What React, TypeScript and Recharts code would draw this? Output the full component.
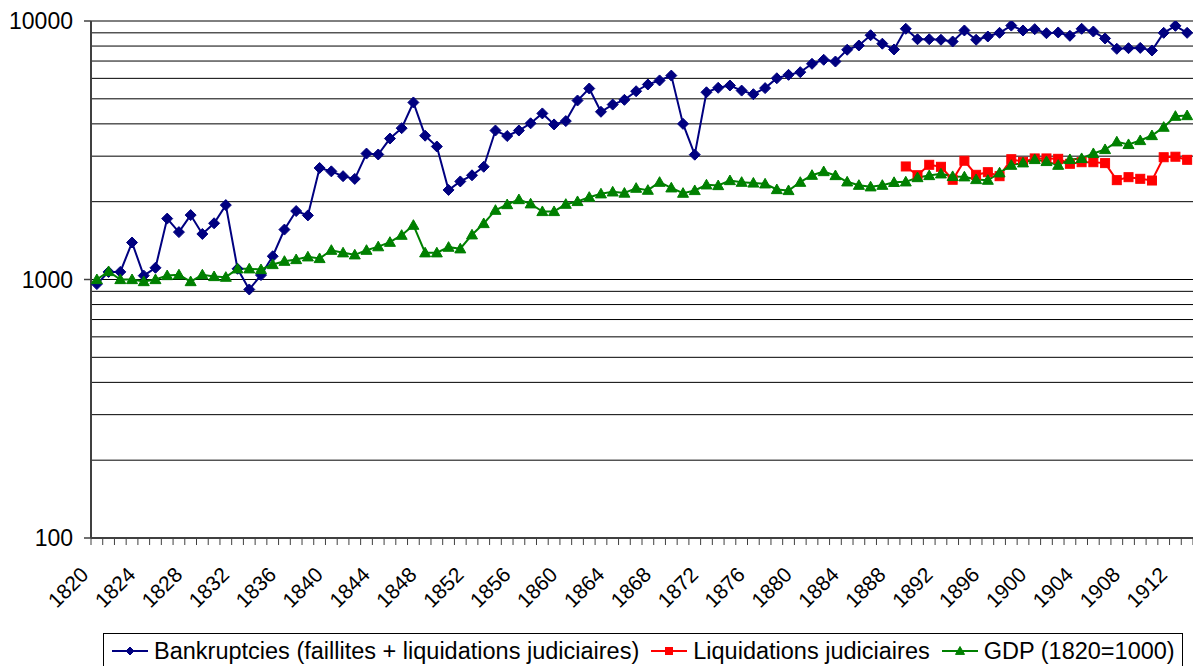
import { LineChart, Line, XAxis, YAxis, CartesianGrid } from "recharts";

const years = [
  1820, 1821, 1822, 1823, 1824, 1825, 1826, 1827, 1828, 1829,
  1830, 1831, 1832, 1833, 1834, 1835, 1836, 1837, 1838, 1839,
  1840, 1841, 1842, 1843, 1844, 1845, 1846, 1847, 1848, 1849,
  1850, 1851, 1852, 1853, 1854, 1855, 1856, 1857, 1858, 1859,
  1860, 1861, 1862, 1863, 1864, 1865, 1866, 1867, 1868, 1869,
  1870, 1871, 1872, 1873, 1874, 1875, 1876, 1877, 1878, 1879,
  1880, 1881, 1882, 1883, 1884, 1885, 1886, 1887, 1888, 1889,
  1890, 1891, 1892, 1893, 1894, 1895, 1896, 1897, 1898, 1899,
  1900, 1901, 1902, 1903, 1904, 1905, 1906, 1907, 1908, 1909,
  1910, 1911, 1912, 1913,
];

// faillites + liquidations judiciaires
const bankruptcies = [
  960, 1070, 1070, 1390, 1035, 1110, 1720, 1525, 1775, 1500,
  1650, 1940, 1100, 915, 1040, 1230, 1560, 1840, 1770, 2700,
  2620, 2510, 2450, 3070, 3045, 3510, 3850, 4840, 3600, 3270,
  2220, 2395, 2530, 2730, 3770, 3590, 3770, 4020, 4390, 3980,
  4100, 4925, 5480, 4455, 4750, 4955, 5350, 5680, 5890, 6150,
  4000, 3040, 5300, 5515, 5630, 5380, 5210, 5500, 6005, 6190,
  6340, 6830, 7080, 6970, 7740, 8040, 8810, 8170, 7760, 9330,
  8500, 8500, 8460, 8330, 9190, 8460, 8710, 9000, 9600, 9190,
  9300, 8970, 9030, 8765, 9330, 9105, 8560, 7805, 7850, 7870,
  7690, 9000, 9580, 9000,
];

// liquidations judiciaires, 1889-1913
const liqStartYear = 1889;
const liquidations = [
  2737, 2532, 2778, 2729, 2431, 2880, 2541, 2601, 2510, 2920,
  2853, 2940, 2940, 2930, 2803, 2843, 2843, 2820, 2423, 2488,
  2452, 2415, 2972, 2985, 2904,
];

// GDP index, 1820 = 1000
const gdp = [
  1000, 1074, 1000, 1000, 982, 1000, 1036, 1043, 982, 1043,
  1027, 1021, 1100, 1100, 1093, 1143, 1177, 1195, 1224, 1206,
  1298, 1269, 1246, 1298, 1340, 1394, 1484, 1622, 1269, 1269,
  1334, 1315, 1489, 1647, 1854, 1950, 2039, 1963, 1833, 1833,
  1956, 2004, 2082, 2146, 2183, 2160, 2256, 2216, 2379, 2263,
  2158, 2210, 2324, 2310, 2415, 2379, 2363, 2345, 2229, 2210,
  2379, 2532, 2616, 2525, 2387, 2316, 2284, 2316, 2376, 2387,
  2480, 2525, 2563, 2505, 2497, 2437, 2423, 2587, 2768, 2828,
  2913, 2862, 2768, 2913, 2940, 3073, 3184, 3410, 3330, 3450,
  3606, 3885, 4283, 4308,
];

const majorTicks = [100, 1000, 10000];
const gridTicks = [
  100, 200, 300, 400, 500, 600, 700, 800, 900,
  1000, 2000, 3000, 4000, 5000, 6000, 7000, 8000, 9000,
  10000,
];

const data = years.map((year, i) => ({
  year,
  bank: bankruptcies[i],
  liq: year >= liqStartYear ? liquidations[year - liqStartYear] : null,
  gdp: gdp[i],
}));

const W = 1193;
const H = 666;
const Y_AXIS_W = 91;
const X_AXIS_H = 128;
const HALF_BAND = (W - Y_AXIS_W) / years.length / 2;
const FONT = '"Liberation Sans", Arial, sans-serif';
const NAVY = "#000080";
const RED = "#ff0000";
const GREEN = "#008000";
const AXIS = "#404040";

const Diamond = ({ cx, cy, r = 5.5 }: any) =>
  cx == null || cy == null ? <g /> : (
    <polygon points={`${cx},${cy - r} ${cx + r},${cy} ${cx},${cy + r} ${cx - r},${cy}`} fill={NAVY} stroke={NAVY} strokeWidth={1} />
  );

const Square = ({ cx, cy, r = 4.5 }: any) =>
  cx == null || cy == null ? <g /> : (
    <rect x={cx - r} y={cy - r} width={r * 2} height={r * 2} fill={RED} stroke={RED} strokeWidth={1} />
  );

const Triangle = ({ cx, cy, r = 5.5 }: any) =>
  cx == null || cy == null ? <g /> : (
    <polygon points={`${cx},${cy - r} ${cx + r},${cy + r * 0.75} ${cx - r},${cy + r * 0.75}`} fill={GREEN} stroke={GREEN} strokeWidth={1} />
  );

const YearTick = ({ x, y, payload }: any) => {
  const yr = payload.value;
  const last = yr === years[years.length - 1];
  return (
    <g>
      <line x1={x - HALF_BAND} x2={x - HALF_BAND} y1={y} y2={y + 7} stroke={AXIS} strokeWidth={1} />
      {last && <line x1={x + HALF_BAND} x2={x + HALF_BAND} y1={y} y2={y + 7} stroke={AXIS} strokeWidth={1} />}
      {yr % 4 === 0 && (
        <text x={x - 7} y={y + 38} textAnchor="end" fontSize={21} fontFamily={FONT} fill="#000" transform={`rotate(-45, ${x - 7}, ${y + 38})`}>
          {yr}
        </text>
      )}
    </g>
  );
};

const ValueTick = ({ x, y, payload }: any) => {
  if (!majorTicks.includes(payload.value)) return <g />;
  return (
    <g>
      <line x1={x - 7} x2={x} y1={y} y2={y} stroke={AXIS} strokeWidth={1.5} />
      <text x={x - 18} y={y} dy="0.36em" textAnchor="end" fontSize={23} fontFamily={FONT} fill="#000">
        {payload.value}
      </text>
    </g>
  );
};

const legendItems = [
  { name: "Bankruptcies (faillites + liquidations judiciaires)", color: NAVY, Marker: Diamond, r: 4 },
  { name: "Liquidations judiciaires", color: RED, Marker: Square, r: 3.5 },
  { name: "GDP (1820=1000)", color: GREEN, Marker: Triangle, r: 4.5 },
];

const App = () => {
  return (
    <div style={{ position: "absolute", left: 0, top: 0, width: W, height: H, overflow: "hidden", background: "#fff", fontFamily: FONT }}>
      <LineChart width={W} height={H} data={data} margin={{ top: 21, right: 0, bottom: 0, left: 0 }}>
        <CartesianGrid vertical={false} stroke="#000" strokeWidth={1} />
        <XAxis
          dataKey="year"
          type="number"
          domain={[1819.5, 1913.5]}
          ticks={years}
          interval={0}
          height={X_AXIS_H}
          tickLine={false}
          tickSize={0}
          tickMargin={0}
          axisLine={{ stroke: AXIS, strokeWidth: 2 }}
          tick={<YearTick />}
        />
        <YAxis
          type="number"
          scale="log"
          domain={[100, 10000]}
          allowDataOverflow
          ticks={gridTicks}
          interval={0}
          width={Y_AXIS_W}
          tickLine={false}
          tickSize={0}
          tickMargin={0}
          axisLine={{ stroke: AXIS, strokeWidth: 2 }}
          tick={<ValueTick />}
        />
        <Line
          dataKey="bank"
          stroke={NAVY}
          strokeWidth={2}
          isAnimationActive={false}
          dot={(p: any) => <Diamond key={`b-${p.index}`} cx={p.cx} cy={p.cy} />}
        />
        <Line
          dataKey="liq"
          stroke={RED}
          strokeWidth={2}
          connectNulls={false}
          isAnimationActive={false}
          dot={(p: any) => <Square key={`l-${p.index}`} cx={p.value == null ? null : p.cx} cy={p.value == null ? null : p.cy} />}
        />
        <Line
          dataKey="gdp"
          stroke={GREEN}
          strokeWidth={2}
          isAnimationActive={false}
          dot={(p: any) => <Triangle key={`g-${p.index}`} cx={p.cx} cy={p.cy} />}
        />
      </LineChart>
      <div
        style={{
          position: "absolute",
          left: 103,
          top: 633,
          width: 1080,
          height: 40,
          boxSizing: "border-box",
          border: "1px solid #000",
          display: "flex",
          alignItems: "center",
          paddingLeft: 8,
          fontSize: 23.5,
          color: "#000",
          whiteSpace: "nowrap",
        }}
      >
        {legendItems.map(({ name, color, Marker, r }) => (
          <div key={name} style={{ display: "flex", alignItems: "center", marginRight: 12, marginTop: -4 }}>
            <svg width={36} height={14} style={{ marginRight: 6 }}>
              <line x1={0} x2={36} y1={7} y2={7} stroke={color} strokeWidth={2} />
              <Marker cx={18} cy={7} r={r} />
            </svg>
            <span>{name}</span>
          </div>
        ))}
      </div>
    </div>
  );
};

export default App;
